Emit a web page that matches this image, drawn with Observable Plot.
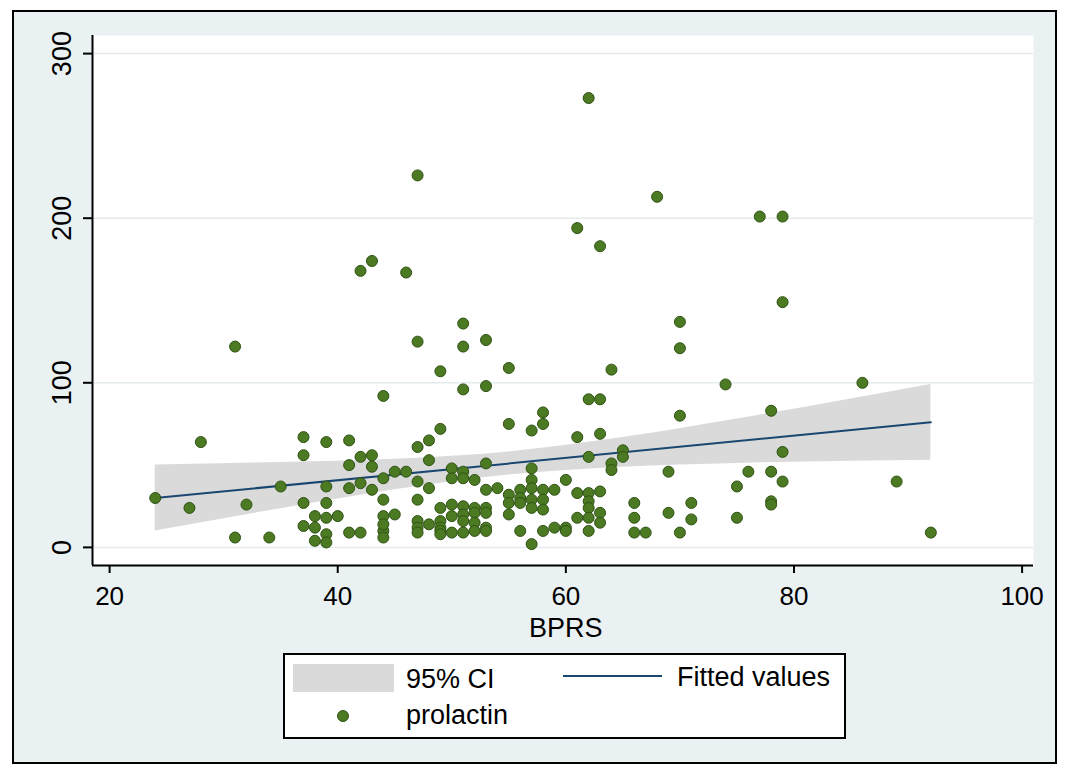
<!DOCTYPE html>
<html><head><meta charset="utf-8">
<script src="https://cdn.jsdelivr.net/npm/d3@7"></script>
<script src="https://cdn.jsdelivr.net/npm/@observablehq/plot@0.6"></script>
<style>
body{margin:0;background:#fff;font-family:"Liberation Sans",Arial,sans-serif;}
#frame{position:absolute;left:12px;top:10px;width:1041px;height:750px;border:2px solid #000;background:#e9f1f3;}
#chart{position:absolute;left:0;top:0;}
#legend{position:absolute;left:283px;top:653px;width:563px;height:86px;box-sizing:border-box;border:2px solid #000;background:#fff;}
#legend div{position:absolute;}
.lt{font-size:27px;line-height:27px;color:#000;white-space:nowrap;}
</style>
</head><body>
<div id="frame"></div>
<div id="chart"></div>
<div id="legend">
  <div style="left:8px;top:9px;width:101px;height:28px;background:#dadada"></div>
  <div class="lt" style="left:121px;top:11px">95% CI</div>
  <div style="left:278px;top:20px;width:99px;height:2px;background:#1a476f"></div>
  <div class="lt" style="left:392px;top:9px">Fitted values</div>
  <div style="left:52px;top:55px;width:10px;height:10px;border-radius:50%;background:#4b7a23;border:1px solid #2f5214"></div>
  <div class="lt" style="left:121px;top:47px">prolactin</div>
</div>
<script>
// BPRS (x) and prolactin (y) values
const bprs = [62,47,68,61,63,77,79,43,42,46,79,51,70,47,53,51,31,70,49,55,64,51,53,74,86,44,62,63,58,78,70,58,55,57,49,61,63,37,39,41,48,28,47,65,79,37,42,43,62,65,48,53,64,41,43,50,57,51,64,45,46,69,76,78,44,50,51,52,57,60,79,89,47,42,75,35,39,41,48,53,54,56,57,58,59,61,62,63,43,55,24,56,57,58,44,47,62,78,78,66,71,37,39,32,27,50,51,55,56,49,52,53,57,58,62,69,63,52,53,55,51,50,38,40,44,45,39,61,62,66,71,75,47,49,51,48,52,63,37,38,47,49,53,59,60,44,39,41,42,47,49,50,51,52,53,56,58,60,62,66,67,70,92,44,31,34,38,39,57,49,44];
const prolactin = [273,226,213,194,183,201,201,174,168,167,149,136,137,125,126,122,122,121,107,109,108,96,98,99,100,92,90,90,82,83,80,75,75,71,72,67,69,67,64,65,65,64,61,59,58,56,55,56,55,55,53,51,51,50,49,48,48,46,47,46,46,46,46,46,42,42,42,41,41,41,40,40,40,39,37,37,37,36,36,35,36,35,36,35,35,33,33,34,35,32,30,30,29,29,29,29,28,28,26,27,27,27,27,26,24,26,25,27,27,24,24,24,24,23,24,21,21,21,21,20,20,19,19,19,19,20,18,18,18,18,17,18,16,16,16,14,15,15,13,12,12,12,12,12,12,10,8,9,9,9,10,9,9,10,10,10,10,10,10,9,9,9,9,6,6,6,4,3,2,8,14];
// fitted line and 95% CI
const fitX = [24, 92];
const fitY = [30, 76];
const ciX  = [24, 35, 45, 55, 65, 75, 85, 92];
const ciLo = [10, 23.5, 35, 44, 48.7, 51, 52.4, 53];
const ciHi = [50, 51.6, 53.6, 58, 66.7, 78, 90.2, 99];
const xTicks = [20, 40, 60, 80, 100];
const yTicks = [0, 100, 200, 300];

const points = bprs.map((x, i) => ({x, y: prolactin[i]}));
const fit = fitX.map((x, i) => ({x, y: fitY[i]}));
const ci = ciX.map((x, i) => ({x, lo: ciLo[i], hi: ciHi[i]}));

const xMin = 18.5, yMin = -11;
const plot = Plot.plot({
  width: 1067, height: 640,
  marginLeft: 92, marginRight: 34, marginTop: 35, marginBottom: 75,
  x: {domain: [xMin, 101]},
  y: {domain: [yMin, 311]},
  style: {background: "transparent", fontFamily: "Liberation Sans, Arial, sans-serif", overflow: "visible", color: "black"},
  marks: [
    Plot.frame({fill: "white", stroke: null}),
    Plot.ruleY(yTicks, {stroke: "#e6ebed", strokeWidth: 1.5}),
    Plot.areaY(ci, {x: "x", y1: "lo", y2: "hi", fill: "#dadada", curve: "monotone-x"}),
    Plot.line(fit, {x: "x", y: "y", stroke: "#1a476f", strokeWidth: 2}),
    Plot.dot(points, {x: "x", y: "y", r: 5.5, fill: "#4b7a23", stroke: "#2f5214", strokeWidth: 1}),
    Plot.ruleX([xMin], {stroke: "black", strokeWidth: 2}),
    Plot.ruleY([yMin], {stroke: "black", strokeWidth: 2}),
    Plot.axisX({ticks: xTicks, tickSize: 8, tickPadding: 13, fontSize: 26, label: null, strokeWidth: 2}),
    Plot.axisY({ticks: yTicks, tickSize: 9, tickFormat: () => "", label: null, strokeWidth: 2}),
    Plot.text(yTicks, {y: d => d, text: d => String(d), frameAnchor: "left", dx: -22, rotate: -90, fontSize: 27, lineAnchor: "bottom", textAnchor: "middle", fill: "black"}),
    Plot.text(["BPRS"], {x: () => 60, text: d => d, frameAnchor: "bottom", dy: 52, lineAnchor: "top", fontSize: 27, fill: "black"})
  ]
});
document.getElementById("chart").appendChild(plot);
</script>
</body></html>
